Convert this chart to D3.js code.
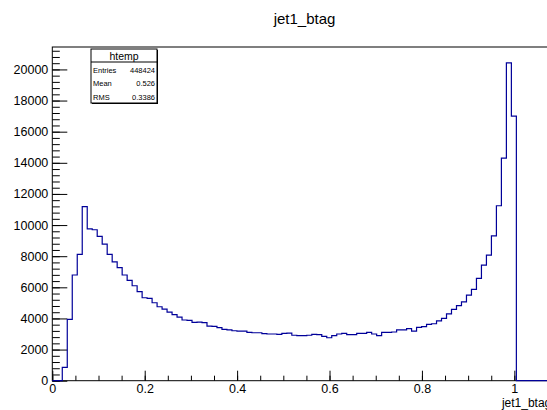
<!DOCTYPE html>
<head>
<meta charset="utf-8">
</head>
<style>
body { margin: 0; background: #fff; }
text { font-family: "Liberation Sans", Arial, sans-serif; }
.axis path { display: none; }
.axis line { stroke: #000; }
.axis text { font-size: 12.5px; fill: #000; }
</style>
<body>
<svg id="chart" width="547" height="410"></svg>

<script src="https://d3js.org/d3.v7.min.js"></script>
<script>

// histogram htemp: 100 bins from 0 to 1.08
var binLow = 0, binWidth = 0.0108;
var counts = [
  0, 0, 860, 3940, 6790, 8120, 11180, 9760, 9700, 9270,
  8780, 8120, 7640, 7260, 6790, 6450, 6100, 5720, 5330, 5290,
  5010, 4750, 4600, 4410, 4240, 4090, 3900, 3880, 3750, 3770,
  3730, 3510, 3490, 3410, 3300, 3260, 3210, 3190, 3190, 3110,
  3080, 3080, 3020, 3000, 3000, 2980, 3040, 3060, 2920, 2900,
  2900, 2920, 2980, 2960, 2850, 2760, 2900, 3000, 3040, 2960,
  2960, 3040, 3040, 3110, 3000, 2890, 3110, 3110, 3130, 3260,
  3260, 3340, 3190, 3430, 3470, 3620, 3660, 3850, 4000, 4300,
  4580, 4820, 5070, 5500, 5870, 6570, 7430, 8070, 9310, 11240,
  14300, 20420, 17000, 0, 0, 0, 0, 0, 0, 0
];
var xMajor = [0, 0.2, 0.4, 0.6, 0.8, 1];
var yMajor = [0, 2000, 4000, 6000, 8000, 10000, 12000, 14000, 16000, 18000, 20000];
var statsLabels = ["Entries", "Mean", "RMS"];
var statsValues = ["448424", "0.526", "0.3386"];

var svg = d3.select("#chart");
var frame = {left: 52.3, right: 551.3, top: 47, bottom: 380.7};

var xMax = binLow + binWidth * counts.length;
var x = d3.scaleLinear().domain([binLow, xMax]).range([frame.left, frame.right]);
var y = d3.scaleLinear().domain([0, d3.max(counts) * 1.05]).range([frame.bottom, frame.top]);

// minor ticks
var xMinor = d3.range(0, 21).map(function(i) { return i * 0.05; }).filter(function(v) { return v < xMax; });
var yMinor = d3.range(0, 54).map(function(i) { return i * 400; }).filter(function(v) { return v < y.domain()[1]; });

svg.append("g")
    .attr("class", "axis")
    .attr("transform", "translate(0," + frame.bottom + ")")
    .call(d3.axisBottom(x).tickValues(xMinor).tickSizeInner(-5).tickSizeOuter(0).tickFormat(""));

svg.append("g")
    .attr("class", "axis")
    .attr("transform", "translate(0," + frame.bottom + ")")
    .call(d3.axisBottom(x).tickValues(xMajor).tickSizeInner(-10).tickSizeOuter(0).tickPadding(3)
      .tickFormat(function(d) { return d3.format("")(d); }));

svg.append("g")
    .attr("class", "axis")
    .attr("transform", "translate(" + frame.left + ",0)")
    .call(d3.axisLeft(y).tickValues(yMinor).tickSizeInner(-7.5).tickSizeOuter(0).tickFormat(""));

svg.append("g")
    .attr("class", "axis")
    .attr("transform", "translate(" + frame.left + ",0)")
    .call(d3.axisLeft(y).tickValues(yMajor).tickSizeInner(-15).tickSizeOuter(0).tickPadding(4)
      .tickFormat(d3.format("d")));

// frame
svg.append("rect")
    .attr("x", frame.left)
    .attr("y", frame.top)
    .attr("width", frame.right - frame.left)
    .attr("height", frame.bottom - frame.top)
    .attr("fill", "none")
    .attr("stroke", "#000")
    .attr("stroke-width", 1);

// histogram outline
var pts = counts.map(function(c, i) { return [binLow + i * binWidth, c]; });
pts.push([xMax, counts[counts.length - 1]]);
pts.unshift([binLow, 0]);

var line = d3.line()
    .x(function(d) { return x(d[0]); })
    .y(function(d) { return y(d[1]); })
    .curve(d3.curveStepAfter);

svg.append("path")
    .datum(pts)
    .attr("d", line)
    .attr("fill", "none")
    .attr("stroke", "#000099")
    .attr("stroke-width", 1.2);

// title
svg.append("text")
    .attr("x", 304.5)
    .attr("y", 24)
    .attr("text-anchor", "middle")
    .style("font-size", "15px")
    .text("jet1_btag");

// x axis title
svg.append("text")
    .attr("x", frame.right)
    .attr("y", 406.5)
    .attr("text-anchor", "end")
    .style("font-size", "12px")
    .text("jet1_btag");

// stats box
var box = {x: 91, y: 49, w: 66, h: 54};
var sb = svg.append("g");
sb.append("rect")
    .attr("x", box.x + 1).attr("y", box.y + 1)
    .attr("width", box.w).attr("height", box.h)
    .attr("fill", "#000");
sb.append("rect")
    .attr("x", box.x).attr("y", box.y)
    .attr("width", box.w).attr("height", box.h)
    .attr("fill", "#fff").attr("stroke", "#000");
sb.append("line")
    .attr("x1", box.x).attr("x2", box.x + box.w)
    .attr("y1", box.y + 13).attr("y2", box.y + 13)
    .attr("stroke", "#000");
sb.append("text")
    .attr("x", box.x + box.w / 2)
    .attr("y", box.y + 10.5)
    .attr("text-anchor", "middle")
    .style("font-size", "10.5px")
    .text("htemp");
statsLabels.forEach(function(lbl, i) {
  sb.append("text")
      .attr("x", box.x + 2)
      .attr("y", box.y + 23.5 + i * 13.7)
      .style("font-size", "7.5px")
      .text(lbl);
  sb.append("text")
      .attr("x", box.x + box.w - 2)
      .attr("y", box.y + 23.5 + i * 13.7)
      .attr("text-anchor", "end")
      .style("font-size", "7.5px")
      .text(statsValues[i]);
});

</script>
</body>
